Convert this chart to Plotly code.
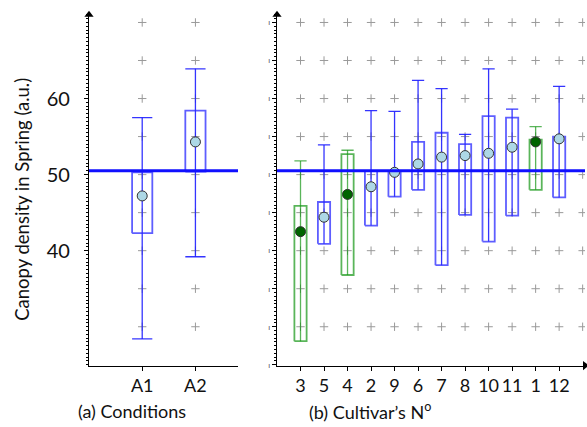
import plotly.graph_objects as go

# ---------------- data ----------------
cond_labels = ["A1", "A2"]
cond_mean = [47.2, 54.3]
cond_q1 = [42.3, 50.4]
cond_q3 = [50.3, 58.4]
cond_low = [28.4, 39.2]
cond_high = [57.5, 63.9]

cult_labels = ["3", "5", "4", "2", "9", "6", "7", "8", "10", "11", "1", "12"]
cult_mean = [42.5, 44.4, 47.4, 48.4, 50.3, 51.4, 52.3, 52.5, 52.8, 53.6, 54.3, 54.7]
cult_q1 = [28.1, 40.9, 36.8, 43.3, 47.1, 48.0, 38.1, 44.7, 41.2, 44.6, 48.0, 47.0]
cult_q3 = [45.9, 46.4, 52.7, 50.5, 50.3, 54.3, 55.5, 54.0, 57.7, 57.5, 54.6, 55.0]
cult_high = [51.8, 53.9, 53.2, 58.4, 58.3, 62.4, 61.3, 55.3, 63.9, 58.6, 56.3, 61.6]
cult_group = ["g", "b", "g", "b", "b", "b", "b", "b", "b", "b", "g", "b"]

ref_level = 50.5
grid_rows = [30, 35, 40, 45, 50, 55, 60, 65, 70]
y_range = [24.9, 71.0]

BLUE_BOX = "rgba(40,40,255,0.75)"
BLUE_WH = "rgba(30,30,255,0.9)"
GREEN_BOX = "rgba(20,150,20,0.7)"
GREEN_WH = "rgba(20,150,20,0.7)"
FONT = "Lato"

fig = go.Figure()


def add_grid(xs, xa, ya):
    gx, gy = [], []
    for c in xs:
        for r in grid_rows:
            gx.append(c)
            gy.append(r)
    fig.add_trace(go.Scatter(x=gx, y=gy, mode="markers", xaxis=xa, yaxis=ya,
                             marker=dict(symbol="cross-thin", size=6,
                                         line=dict(width=1, color="#9a9a9a")),
                             hoverinfo="skip", showlegend=False))


def add_boxes(xs, q1, q3, low, high, hw, box_col, wh_col, xa, ya, lower_cap=True):
    bx, by, wx, wy = [], [], [], []
    for c, a, b, lo, hi in zip(xs, q1, q3, low, high):
        bx += [c - hw, c + hw, c + hw, c - hw, c - hw, None]
        by += [a, a, b, b, a, None]
        wx += [c, c, None, c - hw, c + hw, None]
        wy += [lo, hi, None, hi, hi, None]
        if lower_cap:
            wx += [c - hw, c + hw, None]
            wy += [lo, lo, None]
    fig.add_trace(go.Scatter(x=wx, y=wy, mode="lines", xaxis=xa, yaxis=ya,
                             line=dict(color=wh_col, width=1.3),
                             hoverinfo="skip", showlegend=False))
    fig.add_trace(go.Scatter(x=bx, y=by, mode="lines", xaxis=xa, yaxis=ya,
                             line=dict(color=box_col, width=1.8),
                             hoverinfo="skip", showlegend=False))


# ---- panel (a)
cond_x = list(range(len(cond_labels)))
add_grid(cond_x, "x", "y")
add_boxes(cond_x, cond_q1, cond_q3, cond_low, cond_high, 0.19,
          BLUE_BOX, BLUE_WH, "x", "y", lower_cap=True)

# ---- panel (b)
cult_x = list(range(len(cult_labels)))
add_grid(cult_x + [len(cult_labels)], "x2", "y2")
for grp, bc, wc in [("g", GREEN_BOX, GREEN_WH), ("b", BLUE_BOX, BLUE_WH)]:
    idx = [i for i, g in enumerate(cult_group) if g == grp]
    add_boxes([cult_x[i] for i in idx], [cult_q1[i] for i in idx],
              [cult_q3[i] for i in idx], [cult_q1[i] for i in idx],
              [cult_high[i] for i in idx], 0.26, bc, wc, "x2", "y2",
              lower_cap=False)

# reference lines
for xa, ya in [("x", "y"), ("x2", "y2")]:
    fig.add_shape(type="line", xref=f"{xa} domain", yref=ya, x0=0, x1=1,
                  y0=ref_level, y1=ref_level,
                  line=dict(color="#1010ff", width=3))

# means
fig.add_trace(go.Scatter(x=cond_x, y=cond_mean, mode="markers", xaxis="x", yaxis="y",
                         marker=dict(size=10, color="#add8e6",
                                     line=dict(color="#333", width=1)),
                         hoverinfo="skip", showlegend=False))
mcol = ["#006400" if g == "g" else "#add8e6" for g in cult_group]
fig.add_trace(go.Scatter(x=cult_x, y=cult_mean, mode="markers", xaxis="x2", yaxis="y2",
                         marker=dict(size=10, color=mcol,
                                     line=dict(color="#333", width=1)),
                         hoverinfo="skip", showlegend=False))

# arrows on axes
fig.add_trace(go.Scatter(x=[-1], y=[y_range[1]], mode="markers", xaxis="x", yaxis="y",
                         marker=dict(symbol="triangle-up", size=8, color="black"),
                         cliponaxis=False, hoverinfo="skip", showlegend=False))
fig.add_trace(go.Scatter(x=[-1], y=[y_range[1]], mode="markers", xaxis="x2", yaxis="y2",
                         marker=dict(symbol="triangle-up", size=8, color="black"),
                         cliponaxis=False, hoverinfo="skip", showlegend=False))
fig.add_trace(go.Scatter(x=[12.1], y=[y_range[0]], mode="markers", xaxis="x2", yaxis="y2",
                         marker=dict(symbol="triangle-right", size=8, color="black"),
                         cliponaxis=False, hoverinfo="skip", showlegend=False))

W, H = 587, 427
ydom = [1 - 369 / H, 1 - 15 / H]
axis_common = dict(showgrid=False, zeroline=False, showline=True,
                   linecolor="black", linewidth=1.3, ticks="outside",
                   tickcolor="black", ticklen=4)

fig.update_layout(
    width=W, height=H,
    margin=dict(l=0, r=0, t=0, b=0),
    paper_bgcolor="white", plot_bgcolor="white",
    font=dict(family=FONT, color="#111"),
    xaxis=dict(domain=[89 / W, 238 / W], range=[-1, 1.8], tickvals=cond_x,
               ticktext=cond_labels, tickfont=dict(size=18), anchor="y",
               **axis_common),
    yaxis=dict(domain=ydom, range=y_range, tickvals=[40, 50, 60],
               tickfont=dict(size=20), ticklabelstandoff=10, anchor="x",
               minor=dict(dtick=0.5, ticks="outside", ticklen=2,
                          tickcolor="black", tick0=0),
               **axis_common),
    xaxis2=dict(domain=[277 / W, 585 / W], range=[-1, 12.1], tickvals=cult_x,
                ticktext=cult_labels, tickfont=dict(size=18), anchor="y2",
                **axis_common),
    yaxis2=dict(domain=ydom, range=y_range, tickvals=[25, 30, 35, 40, 45, 50, 55, 60, 65, 70],
                ticktext=["ı"] * 10, tickfont=dict(size=8, color="#555"),
                anchor="x2",
                minor=dict(dtick=0.5, ticks="outside", ticklen=2,
                           tickcolor="black", tick0=0),
                **axis_common),
    annotations=[
        dict(text="Canopy density in Spring (a.u.)", xref="paper", yref="paper",
             x=21.7 / W, y=1 - 201 / H, textangle=-90, showarrow=False,
             font=dict(size=18.5, family=FONT, color="#111"),
             xanchor="center", yanchor="middle"),
        dict(text="(a) Conditions", xref="paper", yref="paper",
             x=132 / W, y=1 - 415 / H, showarrow=False,
             font=dict(size=18, family=FONT, color="#111"),
             xanchor="center", yanchor="middle"),
        dict(text="(b) Cultivar\u2019s N<sup>o</sup>", xref="paper", yref="paper",
             x=370 / W, y=1 - 415 / H, showarrow=False,
             font=dict(size=18, family=FONT, color="#111"),
             xanchor="center", yanchor="middle"),
    ],
)

fig.write_html("out.html", config={"displayModeBar": False},
               post_script="document.body.style.margin='0';document.body.style.overflow='hidden';")
